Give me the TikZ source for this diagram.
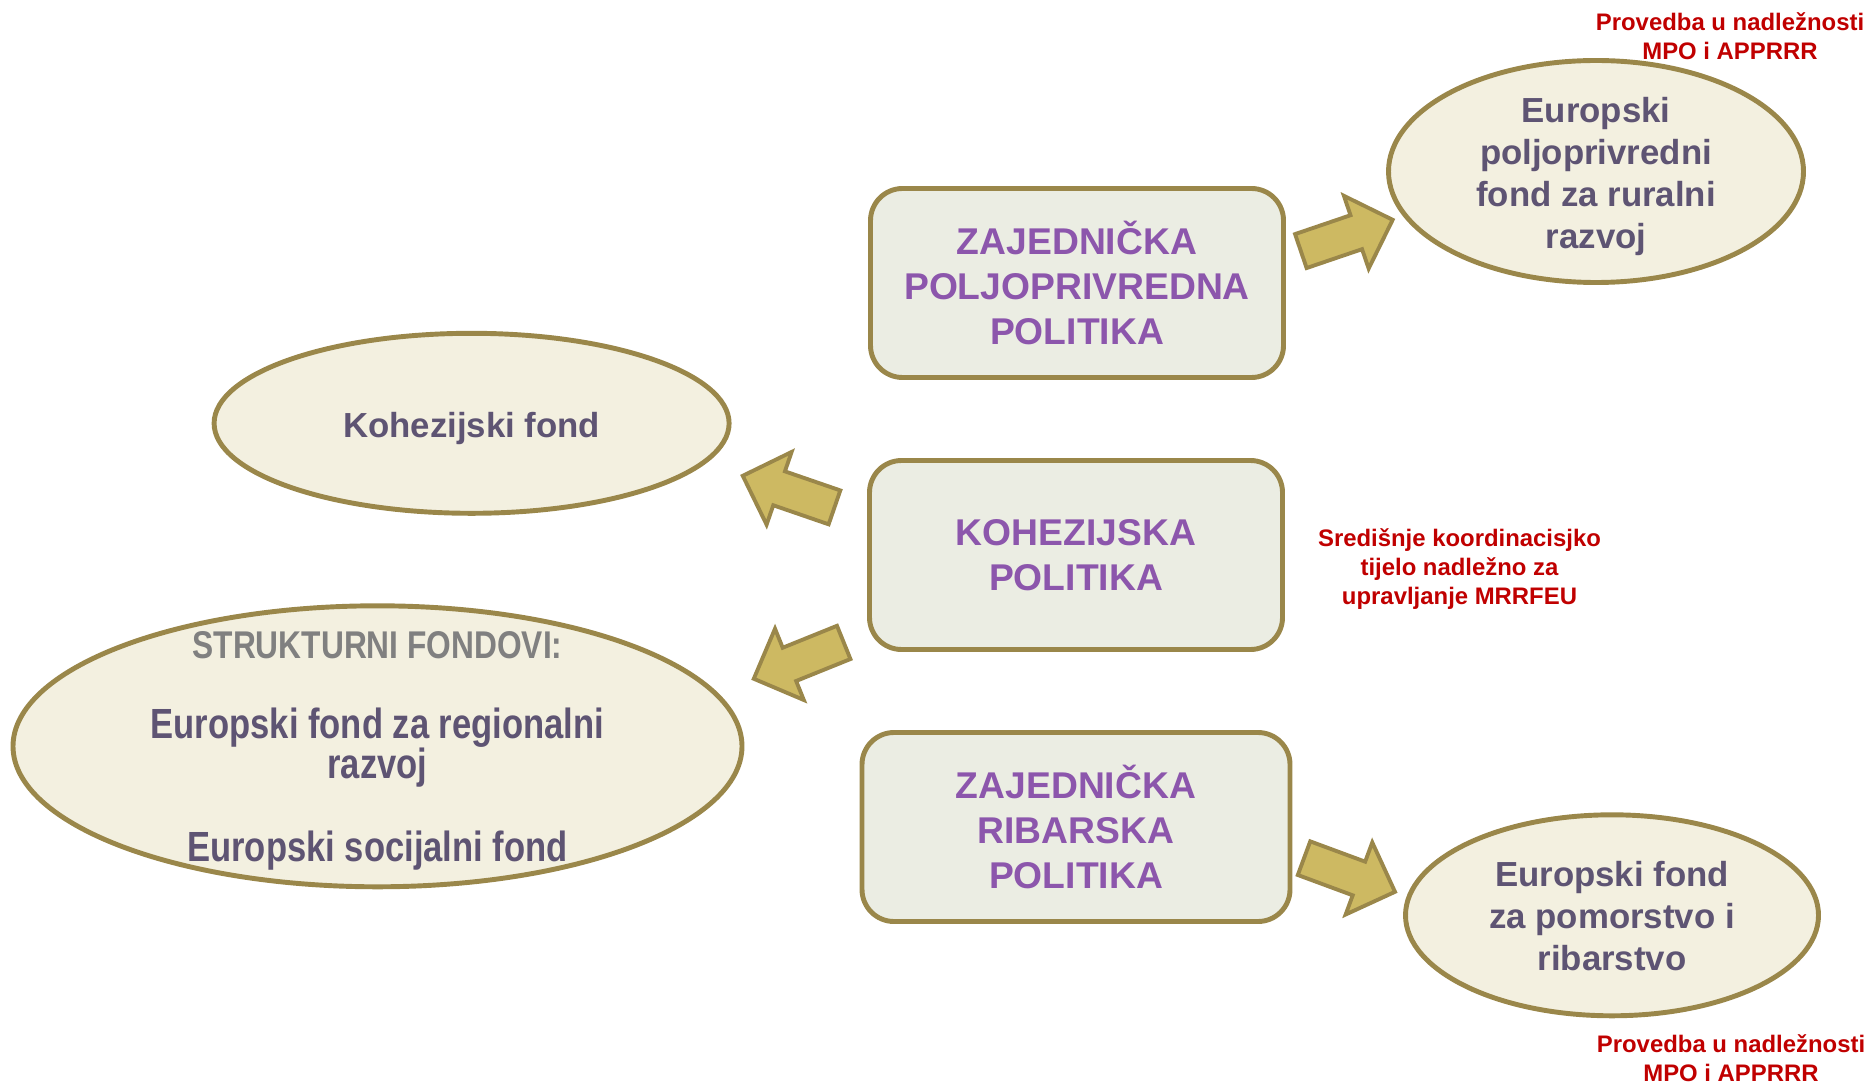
\documentclass[tikz,border=0pt]{standalone}
\usepackage{fontspec}
\setmainfont{Liberation Sans}
\newfontfamily\narrowfont[FakeStretch=0.82]{Liberation Sans}
\usetikzlibrary{shapes.geometric}
\usetikzlibrary{shapes.arrows}

\definecolor{olivebd}{RGB}{154,135,74}
\definecolor{boxfill}{RGB}{235,237,227}
\definecolor{ellfill}{RGB}{243,240,224}
\definecolor{arrowfill}{RGB}{205,185,98}
\definecolor{policytxt}{RGB}{140,86,172}
\definecolor{fundtext}{RGB}{94,84,115}
\definecolor{headgray}{RGB}{128,128,128}
\definecolor{notered}{RGB}{192,0,0}

\begin{document}
\begin{tikzpicture}[x=0.1mm,y=-0.1mm,
  policy/.style={rectangle, rounded corners=3.2mm, draw=olivebd, line width=1.4pt, fill=boxfill,
    text=policytxt, align=center, minimum width=#1, minimum height=18.9mm,
    font=\bfseries\fontsize{10.6pt}{12.7pt}\selectfont},
  fund/.style={ellipse, draw=olivebd, line width=1.4pt, fill=ellfill, inner sep=0pt},
  fundtxt/.style={text=fundtext, align=center, yshift=-1.4pt, font=\bfseries\fontsize{9.9pt}{11.9pt}\selectfont},
  fatarrow/.style={single arrow, draw=olivebd, fill=arrowfill, line width=1.1pt,
    inner xsep=0pt, inner ysep=1.6mm, single arrow head extend=2.05mm, minimum height=9.7mm, anchor=tail},
  note/.style={text=notered, align=center, font=\bfseries\fontsize{6.8pt}{8.3pt}\selectfont}]

\useasboundingbox (0,0) rectangle (1872,1082);

% three policies
\node (zpp) [policy=41.3mm] at (1077,283) {ZAJEDNIČKA\\POLJOPRIVREDNA\\POLITIKA};
\node (kp) [policy=41.3mm] at (1076,555) {KOHEZIJSKA\\POLITIKA};
\node (zrp) [policy=42.8mm] at (1076,827) {ZAJEDNIČKA\\RIBARSKA\\POLITIKA};

% funds
\node (epfrr) [fund, minimum width=41.5mm, minimum height=22.2mm,
  label={[fundtxt]center:{Europski\\poljoprivredni\\fond za ruralni\\razvoj}}] at (1596,171.5) {};
\node (kf) [fund, minimum width=51.5mm, minimum height=18mm,
  label={[fundtxt]center:{Kohezijski fond}}] at (471.6,423.3) {};
\node (sf) [fund, minimum width=72.9mm, minimum height=28.1mm,
  label={[fundtxt, font=\bfseries\narrowfont\fontsize{12pt}{11.6pt}\selectfont]center:{{\color{headgray}\fontsize{11pt}{11.6pt}\selectfont STRUKTURNI FONDOVI:}\\[11pt]Europski fond za regionalni\\razvoj\\[12pt]Europski socijalni fond}}] at (377.5,746.3) {};
\node (efpr) [fund, minimum width=41.3mm, minimum height=20.1mm,
  label={[fundtxt, yshift=1.1pt]center:{Europski fond\\za pomorstvo i\\ribarstvo}}] at (1612,915.3) {};

% notes
\node (note_epfrr) [note] at (1730,36) {Provedba u nadležnosti\\MPO i APPRRR};
\node (note_kp) [note] at (1459.5,569) {Središnje koordinacisjko\\tijelo nadležno za\\upravljanje MRRFEU};
\node (note_efpr) [note] at (1731,1058.5) {Provedba u nadležnosti\\MPO i APPRRR};

% arrows
\node (arr_epfrr) [fatarrow, rotate=18.8] at (1299,251.7) {};
\node (arr_kf) [fatarrow, rotate=161] at (836.3,508) {};
\node (arr_sf) [fatarrow, rotate=202] at (845.5,641.7) {};
\node (arr_efpr) [fatarrow, rotate=-20.3] at (1302.2,857.5) {};
\end{tikzpicture}
\end{document}
